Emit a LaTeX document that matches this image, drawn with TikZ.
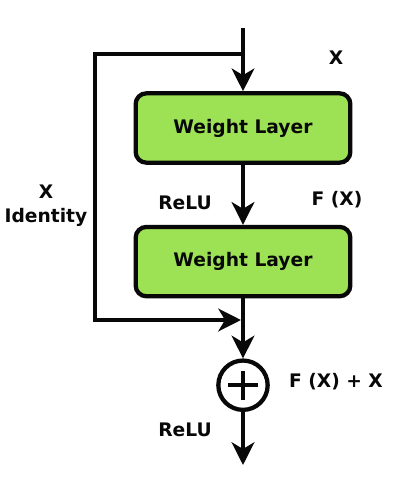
\documentclass[tikz,border=0pt]{standalone}
\usepackage{fontspec}
\setmainfont{DejaVu Sans}
\usetikzlibrary{arrows.meta, positioning}

\definecolor{layergreen}{RGB}{157,225,84}
\definecolor{inkblack}{RGB}{8,8,8}

\begin{document}
\begin{tikzpicture}[
    x=0.75pt, y=-0.75pt,
    every node/.style={align=center, text=inkblack},
    arrow/.style={-{Stealth[length=17pt, width=17pt, inset=5pt]}, line width=3.2pt, color=inkblack},
]

% --- Style definitions ---
\tikzset{
    layer/.style = {draw=inkblack, line width=3.2pt, rounded corners=8pt, fill=layergreen,
        minimum width=161pt, minimum height=52pt, inner sep=0pt,
        font=\bfseries\fontsize{14}{16}\selectfont},
    addop/.style = {draw=inkblack, line width=3.2pt, circle, minimum size=37pt, inner sep=0pt,
        path picture={
            \draw[line width=3pt] ([xshift=-11pt]path picture bounding box.center)
                -- ([xshift=11pt]path picture bounding box.center);
            \draw[line width=3pt] ([yshift=-11pt]path picture bounding box.center)
                -- ([yshift=11pt]path picture bounding box.center);
        }},
    lbl/.style = {font=\bfseries\fontsize{14}{18}\selectfont},
}

\useasboundingbox (0,0) rectangle (412,480);

% --- Main path ---
\coordinate (in) at (243,28);
\coordinate (split) at (243,54);
\node (wl1) [layer] at (243,128) {Weight Layer};
\node (wl2) [layer, below=45pt of wl1] {Weight Layer};
\node (add) [addop, below=45pt of wl2] {};
\coordinate (out) at (243,465);

% --- Identity shortcut ---
\coordinate (skip) at (95,320);
\coordinate (join) at (241,320);

% --- Labels ---
\node (xin) [lbl] at (336,58) {X};
\node (relu1) [lbl] at (185,203) {ReLU};
\node (fx) [lbl] at (337,200) {F (X)};
\node (ident) [lbl] at (46,206) {X\\Identity};
\node (sum) [lbl] at (336,382) {F (X) + X};
\node (relu2) [lbl] at (185,430) {ReLU};

% --- Arrows ---
\draw [arrow] (in) -- (wl1);
\draw [arrow] (wl1) -- (wl2);
\draw [arrow] (wl2) -- (add);
\draw [arrow] (add) -- (out);
\draw [arrow] (split) -| (skip) -- (join);

\end{tikzpicture}
\end{document}
